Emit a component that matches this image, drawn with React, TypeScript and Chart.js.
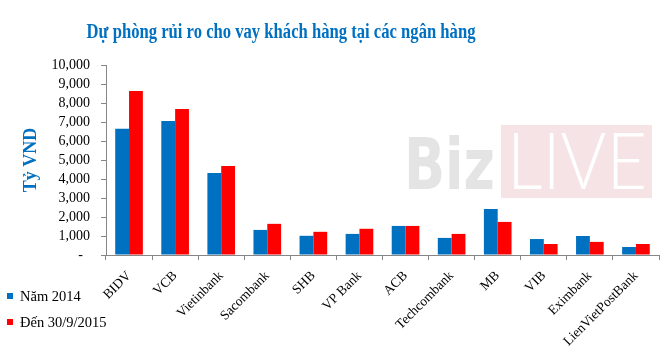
import { useEffect, useRef } from "react";
import { Chart, registerables } from "chart.js";

Chart.register(...registerables);

const TITLE = "Dự phòng rủi ro cho vay khách hàng tại các ngân hàng";
const Y_TITLE = "Tỷ VND";
const BANKS = [
  "BIDV",
  "VCB",
  "Vietinbank",
  "Sacombank",
  "SHB",
  "VP Bank",
  "ACB",
  "Techcombank",
  "MB",
  "VIB",
  "Eximbank",
  "LienVietPostBank",
];
const LABEL_2014 = "Năm 2014";
const LABEL_2015 = "Đến 30/9/2015";
const VALUES_2014 = [6650, 7050, 4320, 1320, 1010, 1110, 1530, 900, 2420, 840, 1000, 420];
const VALUES_2015 = [8630, 7690, 4690, 1640, 1220, 1380, 1530, 1110, 1740, 580, 690, 580];
const Y_MIN = 0;
const Y_MAX = 10000;
const Y_STEP = 1000;

const BLUE = "#0070C0";
const RED = "#FF0000";
const AXIS = "#868686";
const SERIF = '"Liberation Serif", "Times New Roman", serif';

const decorPlugin = {
  id: "decor",
  beforeDatasetsDraw(chart: any) {
    const ctx = chart.ctx;
    const ca = chart.chartArea;
    ctx.save();
    // watermark
    const bx = ca.right - 158;
    const by = ca.top + 60;
    ctx.fillStyle = "#f5e3e5";
    ctx.fillRect(bx, by, 151, 73);
    ctx.textAlign = "left";
    ctx.textBaseline = "alphabetic";
    ctx.fillStyle = "#e4e4e4";
    ctx.font = 'bold 72px "DejaVu Sans", sans-serif';
    ctx.fillText("Biz", bx - 97, by + 64, 91);
    ctx.fillStyle = "#ffffff";
    ctx.font = '300 78px Lato, "Open Sans", sans-serif';
    ctx.fillText("LIVE", bx + 6, by + 64, 140);
    ctx.restore();
  },
  afterDraw(chart: any) {
    const ctx = chart.ctx;
    ctx.save();
    // title
    ctx.fillStyle = BLUE;
    ctx.font = `bold 20px ${SERIF}`;
    ctx.textAlign = "center";
    ctx.textBaseline = "alphabetic";
    ctx.fillText(TITLE, 281, 38, 389);
    // legend
    ctx.textAlign = "left";
    ctx.font = `14.5px ${SERIF}`;
    chart.data.datasets.forEach((ds: any, i: number) => {
      const y = 301 + i * 26;
      ctx.fillStyle = ds.backgroundColor;
      ctx.fillRect(7, y - 8, 6, 6);
      ctx.fillStyle = "#000";
      ctx.fillText(ds.label, 20, y);
    });
    ctx.restore();
  },
};

export default function App() {
  const ref = useRef<HTMLCanvasElement | null>(null);

  useEffect(() => {
    document.body.style.margin = "0";
    if (!ref.current) return;
    const chart = new Chart(ref.current, {
      type: "bar",
      data: {
        labels: BANKS,
        datasets: [
          { label: LABEL_2014, data: VALUES_2014, backgroundColor: BLUE, borderWidth: 0 },
          { label: LABEL_2015, data: VALUES_2015, backgroundColor: RED, borderWidth: 0 },
        ],
      },
      options: {
        responsive: false,
        animation: false,
        layout: { padding: { top: 65, right: 11, left: 0, bottom: 0 } },
        datasets: {
          bar: { categoryPercentage: 0.6, barPercentage: 1 },
        },
        plugins: {
          legend: { display: false },
          title: { display: false },
          tooltip: { enabled: false },
        },
        scales: {
          x: {
            grid: { drawOnChartArea: false, drawTicks: true, tickLength: 5, color: AXIS, offset: true },
            border: { display: true, color: AXIS, width: 1 },
            ticks: {
              autoSkip: false,
              minRotation: 45,
              maxRotation: 45,
              padding: 8,
              color: "#000",
              font: { family: SERIF, size: 13.5 },
            },
            afterFit(scale: any) {
              scale.height = 95;
            },
          },
          y: {
            min: Y_MIN,
            max: Y_MAX,
            grid: { drawOnChartArea: false, drawTicks: true, tickLength: 5, color: AXIS },
            border: { display: true, color: AXIS, width: 1 },
            ticks: {
              stepSize: Y_STEP,
              autoSkip: false,
              padding: 11,
              color: "#000",
              font: { family: SERIF, size: 14 },
              callback: (v: any) => (Number(v) === 0 ? "-  " : Number(v).toLocaleString("en-US")),
            },
            title: {
              display: true,
              text: Y_TITLE,
              color: BLUE,
              font: { family: SERIF, size: 18, weight: "bold" },
              padding: { top: 21, bottom: 0 },
            },
            afterFit(scale: any) {
              scale.width = 106;
            },
          },
        },
      },
      plugins: [decorPlugin],
    });
    return () => chart.destroy();
  }, []);

  return (
    <div style={{ width: 670, height: 350 }}>
      <canvas ref={ref} width={670} height={350} />
    </div>
  );
}
